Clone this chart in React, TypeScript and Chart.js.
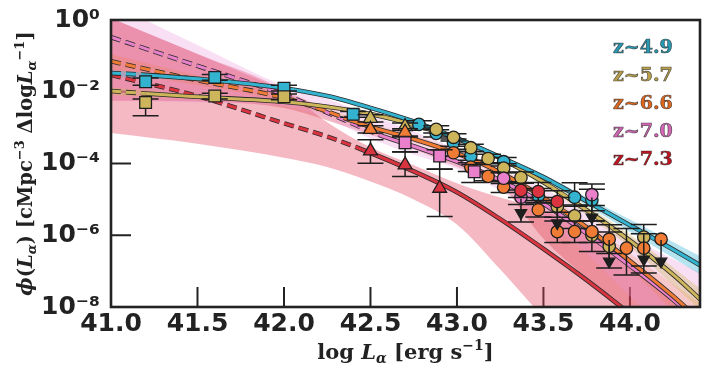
import { useEffect, useRef } from 'react';
import { Chart, registerables } from 'chart.js';

Chart.register(...registerables);

// ---------------- axes & labels ----------------
const X_MIN = 41.0;
const X_MAX = 44.405;
const X_TICKS = [41.0, 41.5, 42.0, 42.5, 43.0, 43.5, 44.0];
const X_TICK_LABELS = ['41.0', '41.5', '42.0', '42.5', '43.0', '43.5', '44.0'];
const Y_MIN = 1e-8;
const Y_MAX = 1;
const Y_TICKS = [1, 1e-2, 1e-4, 1e-6, 1e-8];
const Y_TICK_LABELS = ['10⁰', '10⁻²', '10⁻⁴', '10⁻⁶', '10⁻⁸'];
const INNER_X_TICKS = [41.5, 42.0, 42.5, 43.0, 43.5, 44.0];
const INNER_Y_TICKS = [1e-2, 1e-4, 1e-6];
const SERIES_LABELS = ['z~4.9', 'z~5.7', 'z~6.6', 'z~7.0', 'z~7.3'];

// ---------------- best-fit curves (log10 phi) ----------------
const FIT_L_Z49 = [41.0, 41.2, 41.5, 42.0, 42.25, 42.5, 42.75, 43.0, 43.25, 43.5, 43.75, 44.0, 44.25, 44.41];
const FIT_Z49 = [-1.48, -1.53, -1.64, -1.9, -2.12, -2.45, -2.83, -3.3, -3.82, -4.38, -5.05, -5.72, -6.4, -6.85];
const FIT_L_Z57 = [41.0, 41.2, 41.5, 42.0, 42.25, 42.5, 42.75, 43.0, 43.25, 43.5, 43.75, 44.0, 44.25, 44.41];
const FIT_Z57 = [-1.98, -2.05, -2.14, -2.28, -2.42, -2.62, -2.92, -3.3, -3.85, -4.52, -5.3, -6.15, -7.1, -7.8];
const FIT_L_Z66 = [41.0, 41.5, 42.0, 42.25, 42.4, 42.5, 42.75, 43.0, 43.25, 43.5, 43.75, 44.0, 44.25, 44.41];
const FIT_Z66 = [-1.15, -1.68, -2.17, -2.55, -2.82, -2.98, -3.32, -3.72, -4.25, -4.95, -5.78, -6.72, -7.7, -8.4];
const FIT_L_Z70 = [41.0, 41.5, 42.0, 42.25, 42.55, 42.75, 43.0, 43.25, 43.5, 43.75, 44.0, 44.25, 44.41];
const FIT_Z70 = [-0.48, -1.28, -2.08, -2.58, -3.2, -3.52, -3.95, -4.47, -5.12, -5.95, -6.85, -7.8, -8.5];
const FIT_L_Z73 = [41.0, 41.5, 42.0, 42.25, 42.45, 42.75, 43.0, 43.25, 43.5, 43.75, 43.95, 44.1];
const FIT_Z73 = [-1.53, -2.12, -2.88, -3.25, -3.61, -4.22, -4.8, -5.55, -6.38, -7.25, -8.0, -8.6];
const DASH_END = [41.2, 41.2, 42.4, 42.55, 42.45];

// ---------------- uncertainty bands (log10 phi) ----------------
const BAND_L = [41.0, 41.5, 42.0, 42.25, 42.5, 42.75, 43.0, 43.25, 43.5, 43.75, 44.0, 44.41];
const Z73_OUTER_HI = [0.05, -0.95, -1.96, -2.85, -3.55, -4.05, -4.55, -4.95, -5.3, -5.9, -6.8, -8.3];
const Z73_OUTER_LO = [-3.15, -3.45, -3.84, -4.1, -4.5, -5.0, -5.7, -6.95, -8.3, -9.6, -10.8, -12.5];
const Z73_INNER_HI = [0.05, -0.95, -1.96, -2.5, -3.1, -3.5, -3.95, -4.45, -5.1, -5.95, -6.85, -8.3];
const Z73_INNER_LO = [-2.25, -2.27, -2.45, -2.8, -3.2, -3.6, -4.1, -4.6, -6.1, -7.2, -8.3, -9.5];
const Z70_BAND_HI = [0.47, -0.7, -1.83, -2.2, -2.65, -3.1, -3.6, -4.15, -4.7, -5.35, -6.05, -7.05];
const Z70_BAND_LO = [-2.25, -2.3, -2.4, -2.75, -3.3, -3.75, -4.15, -4.75, -5.55, -6.5, -7.7, -9.5];
const Z66_BAND_HI = [-0.95, -1.55, -2.08, -2.45, -2.88, -3.22, -3.62, -4.15, -4.83, -5.62, -6.5, -7.9];
const Z66_BAND_LO = [-1.4, -1.82, -2.27, -2.65, -3.08, -3.42, -3.82, -4.36, -5.08, -5.95, -6.95, -8.9];
const Z57_BAND_HI = [-1.88, -2.08, -2.23, -2.36, -2.56, -2.86, -3.24, -3.78, -4.43, -5.18, -5.98, -7.5];
const Z57_BAND_LO = [-2.1, -2.2, -2.33, -2.48, -2.68, -2.98, -3.36, -3.92, -4.62, -5.44, -6.33, -8.1];
const Z49_BAND_HI = [-1.4, -1.58, -1.85, -2.07, -2.4, -2.78, -3.24, -3.76, -4.3, -4.94, -5.56, -6.6];
const Z49_BAND_LO = [-1.58, -1.7, -1.95, -2.17, -2.51, -2.89, -3.36, -3.89, -4.47, -5.17, -5.9, -7.1];

// ---------------- measurements (log10 phi, errors in dex) ----------------
const Z49_SQ_L = [41.2, 41.6, 42.0, 42.4];
const Z49_SQ = [-1.72, -1.6, -1.9, -2.63];
const Z49_SQ_LO = [0.1, 0.08, 0.08, 0.08];
const Z49_SQ_HI = [0.1, 0.08, 0.08, 0.08];
const Z49_CI_L = [42.78, 42.88, 42.98, 43.08, 43.27, 43.47, 43.68, 43.78];
const Z49_CI = [-2.91, -3.16, -3.42, -3.79, -3.95, -4.9, -4.94, -5.02];
const Z49_CI_LO = [0.1, 0.1, 0.1, 0.12, 0.12, 0.2, 0.25, 0.3];
const Z49_CI_HI = [0.1, 0.1, 0.1, 0.12, 0.12, 0.2, 0.4, 0.3];

const Z57_SQ_L = [41.2, 41.6, 42.0];
const Z57_SQ = [-2.3, -2.12, -2.14];
const Z57_SQ_LO = [0.37, 0.08, 0.08];
const Z57_SQ_HI = [0.1, 0.08, 0.08];
const Z57_TR_L = [42.5, 42.7];
const Z57_TR = [-2.74, -2.97];
const Z57_TR_LO = [0.1, 0.1];
const Z57_TR_HI = [0.1, 0.1];
const Z57_CI_L = [42.88, 42.98, 43.08, 43.18, 43.27, 43.37, 43.58, 43.68, 43.78, 43.88, 44.08];
const Z57_CI = [-3.05, -3.27, -3.56, -3.86, -4.13, -4.39, -5.2, -5.46, -6.0, -6.31, -6.05];
const Z57_CI_LO = [0.1, 0.1, 0.1, 0.12, 0.12, 0.15, 0.3, 0.35, 0.45, 0.6, 1.0];
const Z57_CI_HI = [0.1, 0.1, 0.1, 0.12, 0.12, 0.15, 0.25, 0.3, 0.4, 0.4, 0.35];

const Z66_TR_L = [42.5, 42.7];
const Z66_TR = [-3.05, -3.13];
const Z66_TR_LO = [0.1, 0.1];
const Z66_TR_HI = [0.1, 0.1];
const Z66_CI_L = [42.98, 43.08, 43.18, 43.27, 43.47, 43.58, 43.68, 43.78, 43.88, 43.98, 44.08, 44.18];
const Z66_CI = [-3.7, -4.1, -4.36, -4.66, -5.29, -5.9, -5.9, -5.9, -6.11, -6.36, -6.36, -6.11];
const Z66_CI_LO = [0.1, 0.12, 0.12, 0.15, 0.2, 0.3, 0.3, 0.3, 0.4, 0.75, 0.5, 0];
const Z66_CI_HI = [0.1, 0.12, 0.12, 0.15, 0.2, 0.3, 0.3, 0.3, 0.4, 0.55, 0.4, 0];

const Z70_SQ_L = [42.7, 42.9, 43.1];
const Z70_SQ = [-3.42, -3.79, -4.23];
const Z70_SQ_LO = [0.26, 0.36, 0.3];
const Z70_SQ_HI = [0.16, 0.17, 0.2];
const Z70_CI_L = [43.27, 43.37, 43.78];
const Z70_CI = [-4.41, -4.94, -4.87];
const Z70_CI_LO = [0.15, 0.2, 0.3];
const Z70_CI_HI = [0.15, 0.2, 0.3];

const Z73_TR_L = [42.5, 42.7, 42.9];
const Z73_TR = [-3.65, -4.04, -4.69];
const Z73_TR_LO = [0.34, 0.32, 0.79];
const Z73_TR_HI = [0.31, 0.37, 0.53];
const Z73_CI_L = [43.37, 43.47, 43.58];
const Z73_CI = [-4.75, -4.78, -5.06];
const Z73_CI_LO = [0.2, 0.25, 0.3];
const Z73_CI_HI = [0.2, 0.25, 0.3];

const LIM_L = [43.37, 43.58, 43.78, 43.88, 44.08, 44.18];
const LIM = [-5.38, -5.66, -5.5, -6.73, -6.67, -6.73];
const LIM_LO = [0.25, 0, 0, 0, 0, 0];
const LIM_HI = [0.4, 0.4, 0.55, 0.6, 0.5, 0.6];

// ---------------- styles ----------------
const C49 = '#33b3cf';
const C57 = '#cdb55c';
const C66 = '#f07b34';
const C70 = '#ea7fcb';
const C73 = '#d9343f';
const LEGEND_COLORS = ['#2699b3', '#b9a14a', '#e0661c', '#d565b5', '#c4121e'];
const INK = '#1e1e1e';

const p10 = (v: number) => Math.pow(10, v);
const xy = (L: number[], v: number[]) => L.map((x, i) => ({ x, y: p10(v[i]) }));

function band(L: number[], hi: number[], lo: number[], color: string, order: number) {
  return [
    { data: xy(L, hi), showLine: true, pointRadius: 0, borderWidth: 0, backgroundColor: color, fill: '+1', order, cubicInterpolationMode: 'monotone' },
    { data: xy(L, lo), showLine: true, pointRadius: 0, borderWidth: 0, backgroundColor: color, fill: false, order, cubicInterpolationMode: 'monotone' },
  ];
}

function curve(L: number[], v: number[], dashEnd: number, color: string, order: number) {
  const data = xy(L, v);
  const segment = { borderDash: (c: any) => (c.p1.parsed.x <= dashEnd + 1e-9 ? [10, 5] : undefined) };
  return [
    { data, showLine: true, pointRadius: 0, borderColor: '#2b2b2b', borderWidth: 4.6, segment, order: order + 1, fill: false, cubicInterpolationMode: 'monotone' },
    { data, showLine: true, pointRadius: 0, borderColor: color, borderWidth: 3, segment, order, fill: false, cubicInterpolationMode: 'monotone' },
  ];
}

function pts(L: number[], v: number[], lo: number[], hi: number[], style: string, color: string, r: number, order: number, extra: any = {}) {
  return {
    data: xy(L, v), showLine: false, pointStyle: style, pointRadius: r,
    pointBackgroundColor: color, pointBorderColor: INK, pointBorderWidth: 1.3,
    errLo: lo, errHi: hi, order, ...extra,
  };
}

type Seg = { t: string; f: string; dy?: number };
function drawRich(ctx: CanvasRenderingContext2D, segs: Seg[], cx: number, cy: number) {
  const widths = segs.map((s) => { ctx.font = s.f; return ctx.measureText(s.t).width; });
  const total = widths.reduce((a, b) => a + b, 0);
  let x = cx - total / 2;
  segs.forEach((s, i) => { ctx.font = s.f; ctx.fillText(s.t, x, cy + (s.dy || 0)); x += widths[i]; });
}

const errorBarPlugin = {
  id: 'errbars',
  beforeDatasetDraw(chart: any, args: any) {
    const ds = chart.data.datasets[args.index];
    if (!ds.errLo) return;
    const { ctx, chartArea: a } = chart;
    const xs = chart.scales.x;
    const ys = chart.scales.y;
    ctx.save();
    ctx.beginPath();
    ctx.rect(a.left, a.top, a.right - a.left, a.bottom - a.top);
    ctx.clip();
    ctx.strokeStyle = INK;
    ctx.lineWidth = 1.5;
    ds.data.forEach((p: any, i: number) => {
      const lv = Math.log10(p.y);
      const x = xs.getPixelForValue(p.x);
      const lo = ds.errLo[i];
      const hi = ds.errHi[i];
      const yLo = ys.getPixelForValue(p10(lv - lo));
      const yHi = ys.getPixelForValue(p10(lv + hi));
      ctx.beginPath();
      ctx.moveTo(x, yLo);
      ctx.lineTo(x, yHi);
      if (lo > 0 && ds.capLo !== false) { ctx.moveTo(x - 13, yLo); ctx.lineTo(x + 13, yLo); }
      if (hi > 0 && ds.capHi !== false) { ctx.moveTo(x - 13, yHi); ctx.lineTo(x + 13, yHi); }
      ctx.stroke();
    });
    ctx.restore();
  },
};

const decorPlugin = {
  id: 'decor',
  beforeDatasetsDraw(chart: any) {
    const { ctx, chartArea: a, scales } = chart;
    ctx.save();
    ctx.strokeStyle = '#222';
    ctx.lineWidth = 2;
    INNER_X_TICKS.forEach((v) => {
      const x = scales.x.getPixelForValue(v);
      ctx.beginPath(); ctx.moveTo(x, a.bottom); ctx.lineTo(x, a.bottom - 20); ctx.stroke();
    });
    INNER_Y_TICKS.forEach((v) => {
      const y = scales.y.getPixelForValue(v);
      ctx.beginPath(); ctx.moveTo(a.left, y); ctx.lineTo(a.left + 20, y); ctx.stroke();
    });
    ctx.restore();
  },
  afterDraw(chart: any) {
    const { ctx, chartArea: a } = chart;
    ctx.save();
    // frame
    ctx.strokeStyle = '#222';
    ctx.lineWidth = 2.6;
    ctx.strokeRect(a.left, a.top, a.right - a.left, a.bottom - a.top);
    // series labels
    ctx.font = 'bold 19px "DejaVu Serif"';
    ctx.textAlign = 'left';
    ctx.textBaseline = 'alphabetic';
    SERIES_LABELS.forEach((t, i) => {
      const x = a.right - 87;
      const y = a.top + 33 + i * 28;
      ctx.fillStyle = LEGEND_COLORS[i];
      ctx.fillText(t, x, y);
      ctx.strokeStyle = 'rgba(40,40,40,0.75)';
      ctx.lineWidth = 0.7;
      ctx.strokeText(t, x, y);
    });
    // axis titles
    ctx.fillStyle = '#222';
    const B = 'bold 21px "DejaVu Serif"';
    const I = 'italic bold 21px "DejaVu Serif"';
    const BS = 'bold 14px "DejaVu Serif"';
    const IS = 'italic bold 14px "DejaVu Serif"';
    drawRich(ctx, [
      { t: 'log ', f: B }, { t: 'L', f: I }, { t: 'α', f: IS, dy: 4 },
      { t: ' [erg s', f: B }, { t: '−1', f: BS, dy: -9 }, { t: ']', f: B },
    ], (a.left + a.right) / 2, 359);
    const YB = 'bold 19.5px "DejaVu Serif"';
    const YI = 'italic bold 19.5px "DejaVu Serif"';
    const YBS = 'bold 13px "DejaVu Serif"';
    const YIS = 'italic bold 13px "DejaVu Serif"';
    ctx.translate(32, (a.top + a.bottom) / 2);
    ctx.rotate(-Math.PI / 2);
    drawRich(ctx, [
      { t: 'ϕ', f: YI }, { t: '(', f: YB }, { t: 'L', f: YI }, { t: 'α', f: YIS, dy: 4 }, { t: ') [cMpc', f: YB },
      { t: '−3', f: YBS, dy: -8 }, { t: ' Δlog', f: YB }, { t: 'L', f: YI }, { t: 'α', f: YIS, dy: 4 },
      { t: '−1', f: YBS, dy: -8 }, { t: ']', f: YB },
    ], 0, 0);
    ctx.restore();
  },
};

export default function App() {
  const ref = useRef<HTMLCanvasElement>(null);
  useEffect(() => {
    if (!ref.current) return;
    const datasets: any[] = [
      ...band(BAND_L, Z73_OUTER_HI, Z73_OUTER_LO, 'rgba(230,70,100,0.38)', 120),
      ...band(BAND_L, Z73_INNER_HI, Z73_INNER_LO, 'rgba(215,45,60,0.3)', 119),
      ...band(BAND_L, Z70_BAND_HI, Z70_BAND_LO, 'rgba(232,150,215,0.3)', 118),
      ...band(BAND_L, Z66_BAND_HI, Z66_BAND_LO, 'rgba(240,120,60,0.22)', 117),
      ...band(BAND_L, Z57_BAND_HI, Z57_BAND_LO, 'rgba(205,180,90,0.35)', 116),
      ...band(BAND_L, Z49_BAND_HI, Z49_BAND_LO, 'rgba(70,185,215,0.4)', 115),
      ...curve(FIT_L_Z73, FIT_Z73, DASH_END[4], C73, 70),
      ...curve(FIT_L_Z70, FIT_Z70, DASH_END[3], C70, 66),
      ...curve(FIT_L_Z66, FIT_Z66, DASH_END[2], C66, 62),
      ...curve(FIT_L_Z57, FIT_Z57, DASH_END[1], C57, 58),
      ...curve(FIT_L_Z49, FIT_Z49, DASH_END[0], C49, 54),
      pts(Z49_SQ_L, Z49_SQ, Z49_SQ_LO, Z49_SQ_HI, 'rect', C49, 8.3, 20),
      pts(Z49_CI_L, Z49_CI, Z49_CI_LO, Z49_CI_HI, 'circle', C49, 6.2, 19),
      pts(Z57_SQ_L, Z57_SQ, Z57_SQ_LO, Z57_SQ_HI, 'rect', C57, 8.3, 18),
      pts(Z57_TR_L, Z57_TR, Z57_TR_LO, Z57_TR_HI, 'triangle', C57, 8, 17),
      pts(Z57_CI_L, Z57_CI, Z57_CI_LO, Z57_CI_HI, 'circle', C57, 6.2, 16),
      pts(Z66_TR_L, Z66_TR, Z66_TR_LO, Z66_TR_HI, 'triangle', C66, 8, 15),
      pts(Z66_CI_L, Z66_CI, Z66_CI_LO, Z66_CI_HI, 'circle', C66, 6.2, 14),
      pts(Z70_SQ_L, Z70_SQ, Z70_SQ_LO, Z70_SQ_HI, 'rect', C70, 8.3, 13),
      pts(Z70_CI_L, Z70_CI, Z70_CI_LO, Z70_CI_HI, 'circle', C70, 6.2, 12),
      pts(Z73_TR_L, Z73_TR, Z73_TR_LO, Z73_TR_HI, 'triangle', C73, 8, 11),
      pts(Z73_CI_L, Z73_CI, Z73_CI_LO, Z73_CI_HI, 'circle', C73, 6.2, 10),
      pts(LIM_L, LIM, LIM_LO, LIM_HI, 'triangle', INK, 6.5, 5, { rotation: 180, capHi: false }),
    ];
    const chart = new Chart(ref.current, {
      type: 'scatter',
      data: { datasets },
      plugins: [errorBarPlugin, decorPlugin],
      options: {
        animation: false,
        responsive: false,
        devicePixelRatio: 1,
        events: [],
        layout: { padding: { top: 20, right: 6, left: 0, bottom: 0 }, autoPadding: false },
        plugins: { legend: { display: false }, tooltip: { enabled: false } },
        scales: {
          x: {
            type: 'linear', min: X_MIN, max: X_MAX,
            grid: { display: false }, border: { display: false },
            afterBuildTicks: (s: any) => { s.ticks = X_TICKS.map((value) => ({ value })); },
            afterFit: (s: any) => { s.height = 63; },
            ticks: {
              autoSkip: false, maxRotation: 0, padding: -6, color: '#222',
              font: { family: 'DejaVu Sans', size: 25, weight: 'bold' },
              callback: (v: any) => { const i = X_TICKS.indexOf(v); return i >= 0 ? X_TICK_LABELS[i] : ''; },
            },
          },
          y: {
            type: 'logarithmic', min: Y_MIN, max: Y_MAX,
            grid: { display: false }, border: { display: false },
            afterBuildTicks: (s: any) => { s.ticks = Y_TICKS.map((value) => ({ value })); },
            afterFit: (s: any) => { s.width = 111; },
            ticks: {
              autoSkip: false, padding: 3, color: '#222',
              font: { family: 'DejaVu Sans', size: 25, weight: 'bold' },
              callback: (v: any) => { const i = Y_TICKS.indexOf(v); return i >= 0 ? Y_TICK_LABELS[i] : ''; },
            },
          },
        },
      } as any,
    });
    return () => chart.destroy();
  }, []);
  return (
    <div style={{ position: 'absolute', left: 0, top: 0, width: 706, height: 370, background: '#fff' }}>
      <canvas ref={ref} width={706} height={370} />
    </div>
  );
}
